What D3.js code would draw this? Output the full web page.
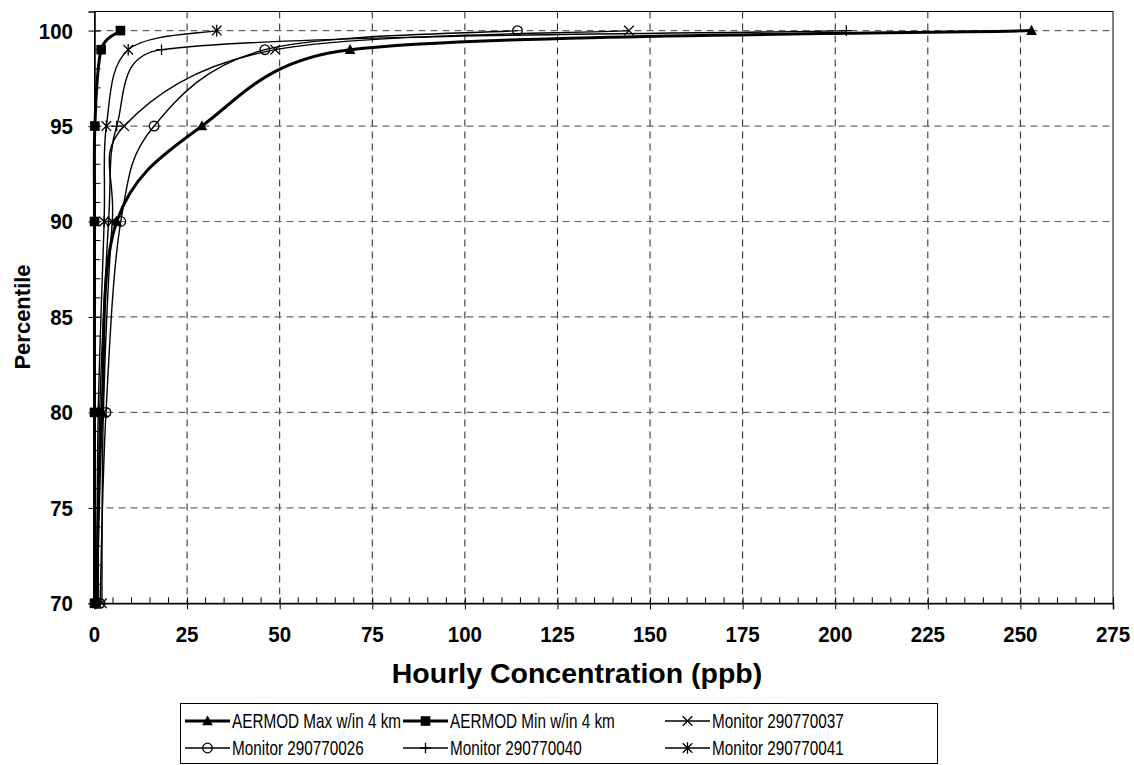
<!DOCTYPE html>
<html><head><meta charset="utf-8">
<script src="https://cdn.jsdelivr.net/npm/d3@7"></script>
<style>body{margin:0;background:#fff}svg{display:block}text{font-family:"Liberation Sans",Arial,sans-serif}</style>
</head><body>
<svg id="c" width="1134" height="765"></svg>
<script>
const percentiles = [70, 80, 90, 95, 99, 100];
const aermodMax = [0.5, 2.0, 6.0, 29.0, 69.0, 253.0];
const aermodMin = [0.0, 0.0, 0.0, 0.1, 1.8, 7.0];
const mon37 = [2.0, 2.4, 4.8, 8.0, 48.8, 144.3];
const mon26 = [1.5, 3.1, 7.1, 16.1, 46.0, 114.2];
const mon40 = [1.0, 1.4, 3.8, 6.0, 18.1, 203.0];
const mon41 = [0.6, 1.0, 2.6, 3.2, 9.1, 33.0];
const seriesNames = ["AERMOD Max w/in 4 km","AERMOD Min w/in 4 km","Monitor 290770037","Monitor 290770026","Monitor 290770040","Monitor 290770041"];
const xTicks = [0,25,50,75,100,125,150,175,200,225,250,275];
const yTicks = [70,75,80,85,90,95,100];

const series = [
  {name:seriesNames[0], vals:aermodMax, marker:"tri", w:3},
  {name:seriesNames[1], vals:aermodMin, marker:"sq", w:3},
  {name:seriesNames[2], vals:mon37, marker:"x", w:1.4},
  {name:seriesNames[3], vals:mon26, marker:"o", w:1.4},
  {name:seriesNames[4], vals:mon40, marker:"plus", w:1.4},
  {name:seriesNames[5], vals:mon41, marker:"star", w:1.4}
];

const L=94.5, R=1113, T=11.5, B=603.3;
const x = d3.scaleLinear().domain([0,275]).range([L,R]);
const y = d3.scaleLinear().domain([70,101]).range([B,T]);
const svg = d3.select("#c");

// grid
const g = svg.append("g");
g.selectAll("line.vg").data(xTicks.filter(d=>d>0&&d<275)).join("line")
  .attr("x1",d=>x(d)).attr("x2",d=>x(d)).attr("y1",T).attr("y2",B)
  .attr("stroke","#222").attr("stroke-width",1).attr("stroke-dasharray","7,5");
g.selectAll("line.hg").data(yTicks.filter(d=>d>70)).join("line")
  .attr("x1",L).attr("x2",R).attr("y1",d=>y(d)).attr("y2",d=>y(d))
  .attr("stroke","#666").attr("stroke-width",1.2).attr("stroke-dasharray","7,5");

// border
svg.append("rect").attr("x",L).attr("y",T).attr("width",R-L).attr("height",B-T)
  .attr("fill","none").attr("stroke","#000").attr("stroke-width",1);

// axes
const xAxis = d3.axisBottom(x).tickValues(xTicks).tickSize(6).tickFormat("");
const xa = svg.append("g").attr("transform",`translate(0,${B})`).call(xAxis);
xa.select(".domain").attr("stroke-width",1.5);
xa.selectAll(".tick line").attr("y1",-6).attr("y2",6);
const xMinor = d3.range(0,276,5).filter(d=>d%25!==0);
svg.append("g").selectAll("line").data(xMinor).join("line")
  .attr("x1",d=>x(d)).attr("x2",d=>x(d)).attr("y1",B).attr("y2",B-6).attr("stroke","#000");

const yAxis = d3.axisLeft(y).tickValues(yTicks).tickSize(6).tickFormat("");
const ya = svg.append("g").attr("transform",`translate(${L},0)`).call(yAxis);
ya.select(".domain").attr("stroke-width",1.5);
ya.selectAll(".tick line").attr("x1",-6).attr("x2",6);
const yMinor = d3.range(71,101,1).filter(d=>d%5!==0);
svg.append("g").selectAll("line").data(yMinor).join("line")
  .attr("x1",L).attr("x2",L+6).attr("y1",d=>y(d)).attr("y2",d=>y(d)).attr("stroke","#000");

// tick labels
const SY=1.12;
svg.append("g").selectAll("text").data(xTicks).join("text")
  .attr("transform",d=>`translate(${x(d)},${642}) scale(1,${SY})`)
  .attr("text-anchor","middle").attr("font-weight","bold").attr("font-size",20.5).text(d=>d);
svg.append("g").selectAll("text").data(yTicks).join("text")
  .attr("transform",d=>`translate(73,${y(d)+8}) scale(1,${SY})`)
  .attr("text-anchor","end").attr("font-weight","bold").attr("font-size",20.5).text(d=>d);

// titles
svg.append("text").attr("transform",`translate(577,683)`)
  .attr("text-anchor","middle").attr("font-weight","bold").attr("font-size",28.5).text("Hourly Concentration (ppb)");
svg.append("text").attr("transform",`translate(30,317) rotate(-90)`)
  .attr("text-anchor","middle").attr("font-weight","bold").attr("font-size",22).text("Percentile");

// markers
function drawMarker(sel, type, cx, cy){
  const m = sel.append("g").attr("transform",`translate(${cx},${cy})`);
  const s=4.8;
  if(type==="tri") m.append("path").attr("d",`M0,${-s-1}L${s+0.5},${s-0.5}L${-s-0.5},${s-0.5}Z`).attr("fill","#000");
  else if(type==="sq") m.append("rect").attr("x",-s).attr("y",-s).attr("width",2*s).attr("height",2*s).attr("fill","#000");
  else if(type==="x") m.append("path").attr("d",`M${-s},${-s}L${s},${s}M${-s},${s}L${s},${-s}`).attr("stroke","#000").attr("stroke-width",1.3);
  else if(type==="o") m.append("circle").attr("r",s).attr("fill","none").attr("stroke","#000").attr("stroke-width",1.3);
  else if(type==="plus") m.append("path").attr("d",`M${-s-0.5},0L${s+0.5},0M0,${-s-0.5}L0,${s+0.5}`).attr("stroke","#000").attr("stroke-width",1.3);
  else if(type==="star") m.append("path").attr("d",`M${-s},${-s}L${s},${s}M${-s},${s}L${s},${-s}M0,${-s-1}L0,${s+1}`).attr("stroke","#000").attr("stroke-width",1.3);
}

// Excel-style smoothed line (Catmull-Rom Bezier with control length limited to half the segment)
function smoothPath(pts){
  const p = d3.path(), n = pts.length;
  const dist = (a,b)=>Math.hypot(b[0]-a[0], b[1]-a[1]);
  p.moveTo(pts[0][0], pts[0][1]);
  for(let i=0;i<n-1;i++){
    const P0=pts[Math.max(i-1,0)], P1=pts[i], P2=pts[i+1], P3=pts[Math.min(i+2,n-1)];
    const d12=dist(P1,P2), d02=dist(P0,P2), d13=dist(P1,P3);
    let f0=1/6, f1=1/6;
    if(d02>0 && d02/6 > d12/2) f0 = d12/2/d02;
    if(d13>0 && d13/6 > d12/2) f1 = d12/2/d13;
    const c1=[P1[0]+(P2[0]-P0[0])*f0, P1[1]+(P2[1]-P0[1])*f0];
    const c2=[P2[0]-(P3[0]-P1[0])*f1, P2[1]-(P3[1]-P1[1])*f1];
    p.bezierCurveTo(c1[0],c1[1],c2[0],c2[1],P2[0],P2[1]);
  }
  return p.toString();
}

const plot = svg.append("g");
const order = [2,3,4,5,0,1];
order.forEach(i=>{
  const s = series[i];
  const pts = s.vals.map((v,j)=>[x(v), y(percentiles[j])]);
  plot.append("path").attr("d",smoothPath(pts)).attr("fill","none").attr("stroke","#000").attr("stroke-width",s.w);
});
order.forEach(i=>{
  const s = series[i];
  s.vals.forEach((v,j)=>drawMarker(plot, s.marker, x(v), y(percentiles[j])));
});

// legend
const lg = svg.append("g");
lg.append("rect").attr("x",180.5).attr("y",703.5).attr("width",757).attr("height",60).attr("fill","#fff").attr("stroke","#000").attr("stroke-width",1);
const colX=[185,403,665], rowY=[721,748];
series.forEach((s,i)=>{
  const cx = colX[i%3], cy = rowY[Math.floor(i/3)];
  lg.append("line").attr("x1",cx).attr("x2",cx+45).attr("y1",cy).attr("y2",cy).attr("stroke","#000").attr("stroke-width",s.w);
  drawMarker(lg, s.marker, cx+22.5, cy);
  lg.append("text").attr("transform",`translate(${cx+47},${cy+7}) scale(1,1.3)`)
    .attr("font-size",15.3).text(s.name);
});
</script>
</body></html>
